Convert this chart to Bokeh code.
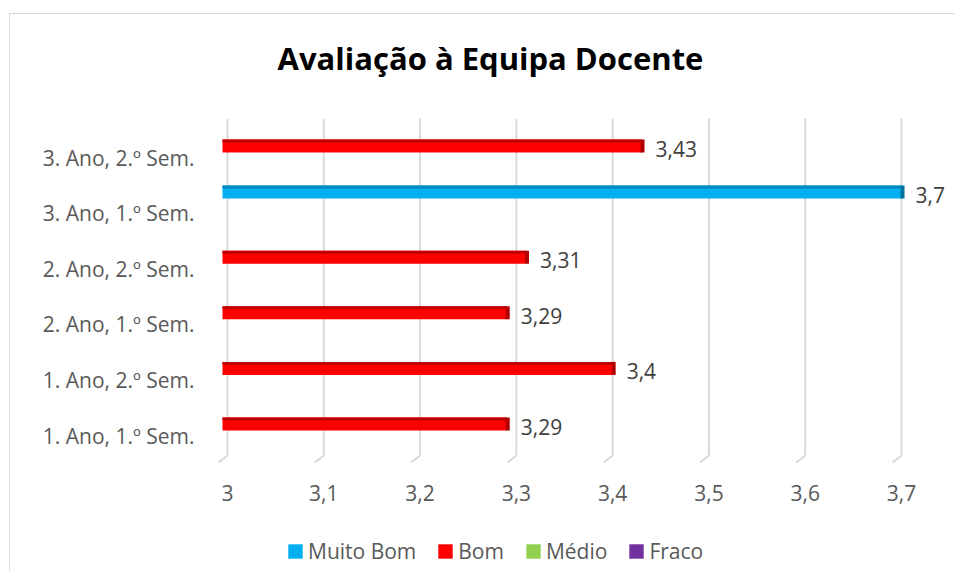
from bokeh.plotting import figure
from bokeh.models import (ColumnDataSource, FixedTicker, CustomJSTickFormatter,
                          Legend, LegendItem, Label)
from bokeh.core.properties import value
from bokeh.embed import file_html
from bokeh.resources import INLINE

# ---------------- data ----------------
categories = ["1. Ano, 1.º Sem.", "1. Ano, 2.º Sem.", "2. Ano, 1.º Sem.",
              "2. Ano, 2.º Sem.", "3. Ano, 1.º Sem.", "3. Ano, 2.º Sem."]
values = [3.29, 3.40, 3.29, 3.31, 3.70, 3.43]
ratings = ["Bom", "Bom", "Bom", "Bom", "Muito Bom", "Bom"]
series = ["Muito Bom", "Bom", "Médio", "Fraco"]
series_colors = ["#00B0F0", "#FF0000", "#92D050", "#7030A0"]
x_ticks = [3.0, 3.1, 3.2, 3.3, 3.4, 3.5, 3.6, 3.7]
title_text = "Avaliação à Equipa Docente"

# ---------------- styling ----------------
top_colors = {"Muito Bom": "#0089BD", "Bom": "#C00000", "Médio": "#6FA83A", "Fraco": "#52207A"}
cap_colors = {"Muito Bom": "#00739F", "Bom": "#B00000", "Médio": "#5A8A2E", "Fraco": "#431A63"}
series_offset = {"Muito Bom": 0.378, "Bom": 0.207, "Médio": 0.036, "Fraco": -0.135}
PX_X = 962.9   # pixels per x unit
PX_Y = 55.6    # pixels per category
bar_h = 13 / PX_Y
strip_h = 3 / PX_Y
AXIS_TXT = "#595959"
FONT = "Open Sans"
FS = "21px"
NAN = float("nan")

x_start = x_ticks[0] - 17 / PX_X
x_end = x_ticks[0] + 721 / PX_X
y_start = -137 / PX_Y
y_end = 421 / PX_Y
axis_loc = -35 / PX_Y

p = figure(width=946, height=558, x_range=(x_start, x_end), y_range=(y_start, y_end),
           output_backend="svg", toolbar_location=None,
           min_border_left=200, min_border_right=8, min_border_top=0, min_border_bottom=0)
p.styles = {"border-top": "1px solid #D9D9D9", "border-left": "1px solid #D9D9D9",
            "margin-top": "13px", "margin-left": "9px"}
p.outline_line_color = None
p.background_fill_color = "white"
p.border_fill_color = "white"
p.xgrid.visible = False
p.ygrid.visible = False

# chart title
p.add_layout(Label(x=x_ticks[0] + 263 / PX_X, y=378 / PX_Y, text=title_text,
                   text_font=FONT, text_font_style="bold", text_font_size="31px",
                   text_color="#000000", text_align="center",
                   text_baseline="alphabetic"))

# gridlines (drawn from tick list)
g_top = 317 / PX_Y
g_bot = -20 / PX_Y
g_slant_y = -27 / PX_Y
g_slant_dx = 9 / PX_X
p.segment(x0=x_ticks, x1=x_ticks, y0=[g_bot] * len(x_ticks), y1=[g_top] * len(x_ticks),
          line_color="#D9D9D9", line_width=2)
p.segment(x0=x_ticks, x1=[t - g_slant_dx for t in x_ticks], y0=[g_bot] * len(x_ticks),
          y1=[g_slant_y] * len(x_ticks), line_color="#D9D9D9", line_width=2)

# bars
legend_items = []
for s, col in zip(series, series_colors):
    idx = [i for i, r in enumerate(ratings) if r == s]
    ys = [i + series_offset[s] for i in idx]
    vs = [values[i] for i in idx]
    src = ColumnDataSource(dict(
        y=ys, left=[x_ticks[0] - 5 / PX_X] * len(idx), right=vs,
        ytop=[y + bar_h / 2 - strip_h / 2 for y in ys],
        cap_l=[v - 1 / PX_X for v in vs], cap_r=[v + 3 / PX_X for v in vs],
        lbl=[("%g" % v).replace(".", ",") for v in vs]))
    p.hbar(y="y", left="left", right="right", height=bar_h, source=src,
           fill_color=col, line_color=None)
    p.hbar(y="ytop", left="left", right="right", height=strip_h, source=src,
           fill_color=top_colors[s], line_color=None)
    p.hbar(y="y", left="cap_l", right="cap_r", height=bar_h, source=src,
           fill_color=cap_colors[s], line_color=None)
    p.text(x="right", y="y", text="lbl", source=src, x_offset=14, y_offset=3,
           text_font=value(FONT), text_font_size=FS, text_color="#404040",
           text_baseline="middle", text_align="left")
    # legend swatch (no data position)
    lr = p.hbar(y=[NAN], left=[NAN], right=[NAN], height=bar_h,
                fill_color=col, line_color=None)
    legend_items.append(LegendItem(label=s, renderers=[lr]))

# axes
p.xaxis.fixed_location = axis_loc
p.xaxis.ticker = FixedTicker(ticks=x_ticks)
p.xaxis.formatter = CustomJSTickFormatter(
    code="return (Math.round(tick*10)/10).toString().replace('.', ',');")
p.yaxis.ticker = FixedTicker(ticks=list(range(len(categories))))
p.yaxis.major_label_overrides = {i: c for i, c in enumerate(categories)}
for ax in (p.xaxis[0], p.yaxis[0]):
    ax.axis_line_color = None
    ax.major_tick_line_color = None
    ax.minor_tick_line_color = None
    ax.major_label_text_font = FONT
    ax.major_label_text_font_size = FS
    ax.major_label_text_color = AXIS_TXT
p.xaxis.major_label_standoff = 8
p.yaxis.major_label_standoff = 10

legend = Legend(items=legend_items, orientation="horizontal", location=(76, 7),
                glyph_width=18, glyph_height=18, label_standoff=4, spacing=20,
                padding=0, margin=0, border_line_color=None, background_fill_alpha=0,
                label_text_font=FONT, label_text_font_size=FS,
                label_text_color=AXIS_TXT, label_height=20)
p.add_layout(legend)

open("out.html", "w").write(file_html(p, INLINE))
